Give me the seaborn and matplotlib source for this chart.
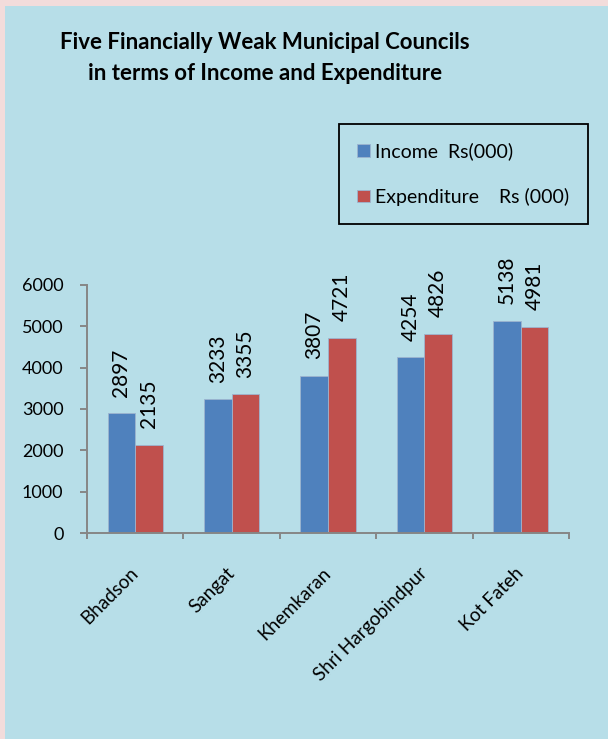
import seaborn as sns
import pandas as pd
import matplotlib.pyplot as plt
from matplotlib.patches import Rectangle
from matplotlib.ticker import FixedLocator

councils = ['Bhadson', 'Sangat', 'Khemkaran', 'Shri Hargobindpur', 'Kot Fateh']
income = [2897, 3233, 3807, 4254, 5138]
expenditure = [2135, 3355, 4721, 4826, 4981]
series_labels = ['Income  Rs(000)', 'Expenditure    Rs (000)']
y_ticks = [0, 1000, 2000, 3000, 4000, 5000, 6000]

bg_blue = '#B7DEE8'
border_pink = '#F2DCDB'
bar_colors = ['#4F81BD', '#C0504D']
axis_grey = '#868686'

body = ['Lato', 'DejaVu Sans']

df = pd.DataFrame({
    'Council': councils * 2,
    'Value': income + expenditure,
    'Series': [series_labels[0]] * len(councils) + [series_labels[1]] * len(councils),
})

sns.set_style('white')
plt.rcParams['font.family'] = body

fig = plt.figure(figsize=(6.08, 7.39), dpi=100)
fig.patch.set_facecolor(border_pink)
# blue panel, leaving a thin pink strip on the left and top
fig.patches.append(Rectangle((5 / 608, 0), 1, 1 - 6 / 739, transform=fig.transFigure,
                             facecolor=bg_blue, edgecolor='none', zorder=-10))

ax = fig.add_axes([87 / 608, 1 - 533 / 739, (569 - 87) / 608, (533 - 285) / 739])
ax.set_facecolor('none')
ax.set_zorder(2)

sns.barplot(data=df, x='Council', y='Value', hue='Series', palette=bar_colors,
            width=0.574, saturation=1, edgecolor='#9DB4CF', linewidth=0.6, ax=ax)

for container in ax.containers:
    ax.bar_label(container, fmt='{:.0f}', rotation=90, padding=12,
                 fontsize=15, color='black')

ax.set_xlim(-0.5, len(councils) - 0.5)
ax.set_ylim(0, 6000)
ax.set_yticks(y_ticks)
ax.set_xlabel('')
ax.set_ylabel('')

for side in ['top', 'right']:
    ax.spines[side].set_visible(False)
for side in ['left', 'bottom']:
    ax.spines[side].set_color(axis_grey)
    ax.spines[side].set_linewidth(1.4)

ax.tick_params(axis='y', direction='out', length=5, width=1.4, color=axis_grey,
               pad=12, labelsize=13, left=True, labelcolor='black')
ax.set_xticks(range(len(councils)))
ax.set_xticklabels(councils, rotation=45, ha='right', va='center',
                   rotation_mode='anchor', fontsize=13.5, color='black')
ax.tick_params(axis='x', which='major', length=0, pad=27)
ax.xaxis.set_minor_locator(FixedLocator([i - 0.5 for i in range(len(councils) + 1)]))
ax.tick_params(axis='x', which='minor', direction='out', length=4, width=1.4,
               color=axis_grey, bottom=True)

handles, labels = ax.get_legend_handles_labels()
leg = ax.legend(handles, labels, loc='upper left',
                bbox_to_anchor=(339 / 608, 1 - 124 / 739), bbox_transform=fig.transFigure,
                borderaxespad=0, frameon=True, fancybox=False, facecolor=bg_blue,
                edgecolor='black', framealpha=1, fontsize=14, handlelength=0.62,
                handleheight=0.62, handletextpad=0.3, labelspacing=1.4, borderpad=0.95)
leg.get_frame().set_linewidth(1.3)
for t in leg.get_texts():
    t.set_color('black')

fig.text(265 / 608, 1 - 58 / 739,
         'Five Financially Weak Municipal Councils\nin terms of Income and Expenditure',
         ha='center', va='center', fontsize=16, fontweight='bold',
         color='black', linespacing=1.55)

fig.savefig('out.png', dpi=100, facecolor=fig.get_facecolor())
